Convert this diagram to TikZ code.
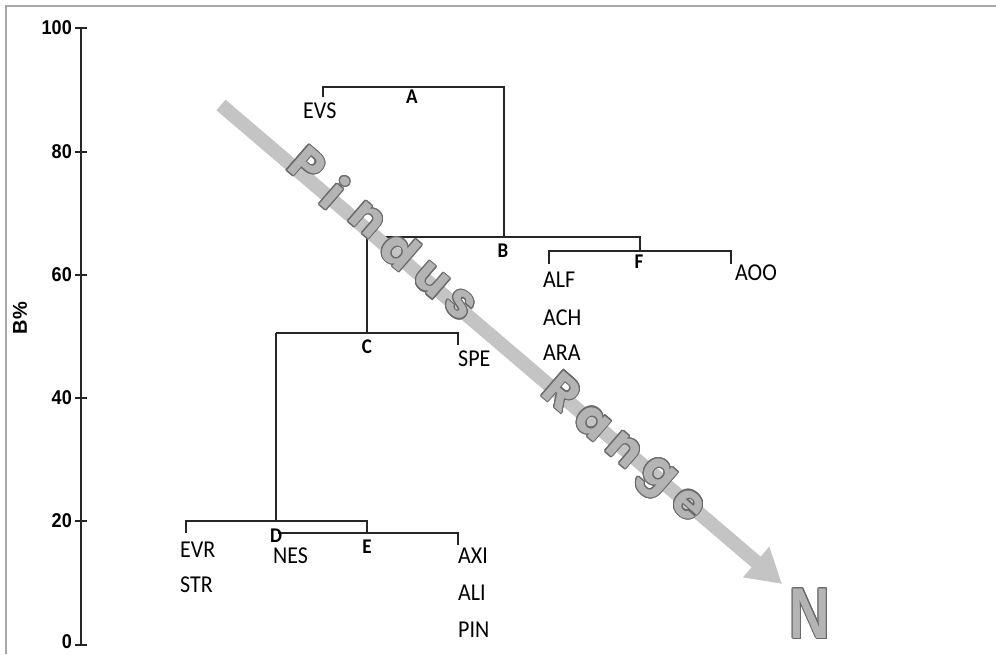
\documentclass[tikz,border=0pt]{standalone}
\usepackage{fontspec}
\usepackage{graphicx}
\usepackage[copies]{contour}
\usetikzlibrary{arrows.meta}
\setmainfont{Carlito}
\newfontfamily\axfont{Liberation Sans}
\newfontfamily\pfont{Poppins}
\definecolor{arrowgray}{HTML}{C4C4C4}
\definecolor{letfill}{HTML}{B4B4B4}
\definecolor{letline}{HTML}{6A6A6A}
\definecolor{framegray}{HTML}{A8A8A8}
\newcommand{\vstretch}[1]{\scalebox{1}[1.1]{#1}}
\newcommand{\metal}[1]{\contour{letline}{\textcolor{letfill}{#1}}}
\contourlength{1.1pt}
\begin{document}
\begin{tikzpicture}[x=1pt,y=-1pt,
  leaf/.style={font=\fontsize{22}{22}\selectfont, inner sep=0pt, anchor=base west},
  clus/.style={font=\bfseries\fontsize{19}{19}\selectfont, inner sep=0pt, anchor=base},
  ticklab/.style={font=\axfont\bfseries\fontsize{19}{19}\selectfont, inner sep=0pt, anchor=east},
  dendro/.style={line width=1.2pt, black!85},
  axisline/.style={line width=1.4pt, black!85},
  pindusletter/.style={font=\pfont\bfseries\fontsize{48}{48}\selectfont, inner sep=0pt, rotate=-41}]
\useasboundingbox (0,0) rectangle (996,654);
% frame
\coordinate (fbl) at (6,654);
\coordinate (ftl) at (6,6);
\coordinate (ftr) at (996,6);
\draw[framegray, line width=2pt] (fbl) -- (ftl) -- (ftr);
% axis
\coordinate (ax0) at (81,645);
\coordinate (ax100) at (81,28);
\draw[axisline] (ax0) -- (ax100);
\foreach \v/\y/\ly in {0/645/642,20/521/521,40/398/398,60/275/275,80/152/152,100/28/28}{
  \draw[axisline] (75,\y) -- (87,\y);
  \node[ticklab] (t\v) at (72,\ly) {\scalebox{0.95}[1.05]{\v}};
}
\node[font=\axfont\bfseries\fontsize{20}{20}\selectfont, inner sep=0pt, rotate=90] (ylab) at (20,318) {B\%};
% dendrogram coordinates
\coordinate (evsTop) at (323,97);
\coordinate (a1) at (323,87);
\coordinate (a2) at (504,87);
\coordinate (bJoin) at (504,237);
\coordinate (b1) at (367,237);
\coordinate (b2) at (640,237);
\coordinate (fJoin) at (640,251);
\coordinate (f1) at (549,251);
\coordinate (f2) at (731,251);
\coordinate (alfTop) at (549,264);
\coordinate (aooTop) at (731,264);
\coordinate (cJoin) at (367,333);
\coordinate (c1) at (276,333);
\coordinate (c2) at (458,333);
\coordinate (speTop) at (458,345);
\coordinate (dJoin) at (276,521);
\coordinate (d1) at (186,521);
\coordinate (d2) at (367,521);
\coordinate (evrTop) at (186,533);
\coordinate (eJoin) at (367,533);
\coordinate (e1) at (278,533);
\coordinate (e2) at (458,533);
\coordinate (axiTop) at (458,545);
\draw[dendro] (evsTop) -- (a1) -- (a2) -- (bJoin);
\draw[dendro] (b1) -- (b2) -- (fJoin);
\draw[dendro] (alfTop) -- (f1) -- (f2) -- (aooTop);
\draw[dendro] (b1) -- (cJoin);
\draw[dendro] (c1) -- (c2) -- (speTop);
\draw[dendro] (c1) -- (dJoin);
\draw[dendro] (evrTop) -- (d1) -- (d2) -- (eJoin);
\draw[dendro] (e1) -- (e2) -- (axiTop);
% leaf labels
\node[leaf] (evs) at (303,118) {\vstretch{EVS}};
\node[leaf] (alf) at (543,287) {\vstretch{ALF}};
\node[leaf] (ach) at (543,325) {\vstretch{ACH}};
\node[leaf] (ara) at (543,360) {\vstretch{ARA}};
\node[leaf] (aoo) at (735,280) {\vstretch{AOO}};
\node[leaf] (spe) at (458,366) {\vstretch{SPE}};
\node[leaf] (evr) at (180,557) {\vstretch{EVR}};
\node[leaf] (str) at (180,592) {\vstretch{STR}};
\node[leaf] (nes) at (273,563) {\vstretch{NES}};
\node[leaf] (axi) at (458,563) {\vstretch{AXI}};
\node[leaf] (ali) at (458,600) {\vstretch{ALI}};
\node[leaf] (pinl) at (458,637) {\vstretch{PIN}};
% cluster labels
\node[clus] (la) at (412,103) {\vstretch{A}};
\node[clus] (lb) at (503,257) {\vstretch{B}};
\node[clus] (lc) at (367,353) {\vstretch{C}};
\node[clus] (ld) at (276,542) {\vstretch{D}};
\node[clus] (le) at (367,553) {\vstretch{E}};
\node[clus] (lf) at (639,268) {\vstretch{F}};
% Pindus range arrow
\coordinate (arrS) at (221,105);
\coordinate (arrE) at (782,584);
\draw[arrowgray, line width=14pt, -{Triangle[length=34pt,width=38pt]}] (arrS) -- (arrE);
\node[pindusletter] (p1) at (307,166) {\metal{P}};
\node[pindusletter] (p2) at (335,193) {\metal{i}};
\node[pindusletter] (p3) at (367,220) {\metal{n}};
\node[pindusletter] (p4) at (400,250) {\metal{d}};
\node[pindusletter] (p5) at (431,281) {\metal{u}};
\node[pindusletter] (p6) at (460,305) {\metal{s}};
\node[pindusletter] (r1) at (562,392) {\metal{R}};
\node[pindusletter] (r2) at (592,423) {\metal{a}};
\node[pindusletter] (r3) at (624,450) {\metal{n}};
\node[pindusletter] (r4) at (655,479) {\metal{g}};
\node[pindusletter] (r5) at (688,505) {\metal{e}};
% N
\node[font=\axfont\bfseries\fontsize{72}{72}\selectfont, inner sep=0pt] (north) at (810,614) {\scalebox{0.78}[1]{\metal{N}}};
\end{tikzpicture}
\end{document}
